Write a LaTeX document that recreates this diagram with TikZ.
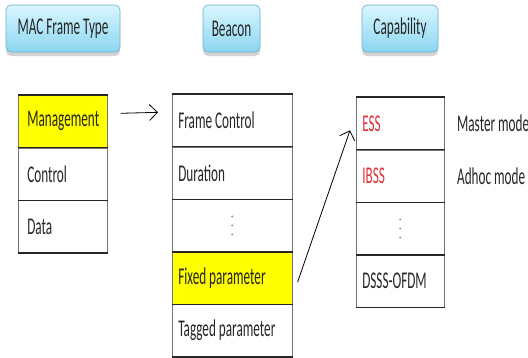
\documentclass[tikz,border=0pt]{standalone}
\usepackage{fontspec}
\setmainfont{Carlito}[FakeStretch=0.55]
\usetikzlibrary{positioning,shadows,arrows.meta}
\definecolor{hdrtop}{HTML}{D8F6FF}
\definecolor{hdrbot}{HTML}{8CD6F0}
\definecolor{hdrline}{HTML}{6AAFCF}
\definecolor{txt}{HTML}{262626}
\definecolor{fldred}{HTML}{E0303C}
\definecolor{hiyellow}{HTML}{FFFF00}
\tikzset{
  hdr/.style={draw=hdrline, line width=0.6pt, rounded corners=5pt, top color=hdrtop, bottom color=hdrbot,
    minimum height=47pt, drop shadow={shadow xshift=0pt, shadow yshift=-4pt, fill=black!35}},
  cell/.style={draw=black!55, line width=0.6pt, minimum height=52pt, inner xsep=6pt,
    execute at begin node={\hbox to #1\bgroup}, execute at end node={\hfil\egroup}},
  hline/.style={line width=1.4pt, black!85},
  link/.style={line width=0.8pt, -{Straight Barb[length=8pt,width=16pt]}}
}
\begin{document}
\begin{tikzpicture}[x=1pt,y=-1pt,font=\fontsize{24}{27}\selectfont, text=txt]
    \useasboundingbox (0,0) rectangle (528,357);
    % headers
    \node [hdr, minimum width=114pt] (hmac) at (63,28.5) {MAC Frame Type};
    \node [hdr, minimum width=57pt] (hbeacon) at (231.5,28.5) {Beacon};
    \node [hdr, minimum width=76pt] (hcap) at (400,28.5) {Capability};
    % frame type
    \node [cell=71pt, inner xsep=9pt, fill=hiyellow, anchor=north west] (mgmt) at (18,95) {Management};
    \node [cell=71pt, inner xsep=9pt, below=0pt of mgmt] (ctrl) {Control};
    \node [cell=71pt, inner xsep=9pt, below=0pt of ctrl] (data) {Data};
    % beacon
    \node [cell=108pt, anchor=north west] (fc) at (172,94) {Frame Control};
    \node [cell=108pt, below=0pt of fc] (dur) {Duration};
    \node [cell=108pt, below=0pt of dur] (bdots) {};
    \node [cell=108pt, fill=hiyellow, below=0pt of bdots] (fixed) {Fixed parameter};
    \node [cell=108pt, below=0pt of fixed] (tagged) {Tagged parameter};
    % capability
    \node [cell=76pt, anchor=north west, text=fldred] (ess) at (356,97) {ESS};
    \node [cell=76pt, below=0pt of ess, text=fldred] (ibss) {IBSS};
    \node [cell=76pt, below=0pt of ibss] (cdots) {};
    \node [cell=76pt, below=0pt of cdots] (dsss) {DSSS-OFDM};
    \node [right=9pt of ess] (master) {Master mode};
    \node [right=9pt of ibss] (adhoc) {Adhoc mode};
    % row separators
    \foreach \n in {mgmt,ctrl,data,fc,dur,bdots,fixed,tagged,ess,ibss,cdots,dsss}
        \draw [hline] (\n.north west) -- (\n.north east);
    \foreach \n in {data,tagged,dsss}
        \draw [hline] (\n.south west) -- (\n.south east);
    % vertical dots
    \foreach \n in {bdots,cdots}
        \foreach \d in {-9,0,9}
            \fill [black!40] ([yshift=\d pt]\n.center) circle (1.1pt);
    % links
    \draw [link] ([shift={(13,-8)}]mgmt.east) -- ([shift={(-14,-8)}]fc.west);
    \draw [link] ([shift={(5,4)}]fixed.east) -- ([shift={(-6,7)}]ess.west);
\end{tikzpicture}
\end{document}
